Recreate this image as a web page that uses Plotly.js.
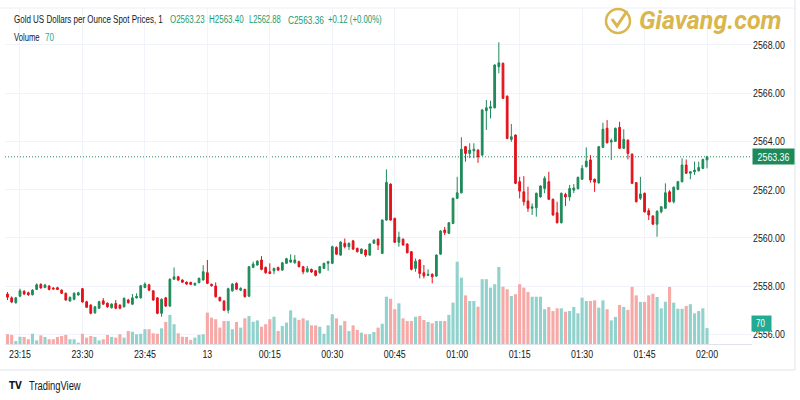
<!DOCTYPE html>
<html>
<head>
<meta charset="utf-8">
<script src="https://cdn.plot.ly/plotly-3.0.1.min.js"></script>
<style>
html,body{margin:0;padding:0;background:#fff;}
#chart{width:800px;height:400px;}
</style>
</head>
<body>
<div id="chart"></div>
<script>
// ---- data: 1-minute candles starting 2024-09-12 23:12 ----
var startTime = '2024-09-12 23:12';
var openP = [
2557.68,2557.52,2557.32,2557.59,2557.79,2557.73,2557.65,2557.87,2558.08,2557.95,
2558.01,2557.93,2557.94,2557.84,2557.71,2557.39,2557.46,2557.64,2557.90,2557.36,
2557.22,2556.90,2557.09,2557.40,2557.30,2557.11,2557.29,2557.22,2557.15,2557.43,
2557.26,2557.52,2557.52,2557.95,2558.06,2557.81,2557.52,2556.88,2557.52,2557.18,
2558.29,2558.39,2558.26,2558.17,2558.16,2558.05,2558.15,2558.26,2558.56,2558.08,
2558.01,2557.54,2557.39,2557.01,2557.81,2558.12,2557.84,2557.87,2557.59,2558.78,
2558.88,2559.09,2558.78,2558.60,2558.64,2558.78,2558.67,2558.95,2559.00,2558.97,
2559.02,2558.81,2558.60,2558.70,2558.64,2558.56,2558.74,2558.95,2558.95,2559.61,
2559.29,2559.78,2559.64,2559.88,2559.57,2559.36,2559.50,2559.29,2559.78,2559.95,
2559.36,2560.74,2562.23,2560.81,2559.82,2559.95,2559.75,2559.43,2558.74,2559.09,
2558.56,2558.45,2558.50,2558.42,2559.33,2560.33,2560.19,2560.60,2561.64,2561.87,
2563.78,2563.50,2563.61,2563.64,2563.43,2565.27,2565.37,2565.39,2567.09,2567.23,
2565.87,2564.08,2564.26,2562.33,2561.91,2561.53,2561.23,2561.25,2561.70,2562.05,
2562.33,2561.60,2561.04,2560.63,2561.80,2561.70,2561.98,2562.04,2562.43,2562.95,
2563.23,2562.43,2562.28,2563.75,2564.54,2563.97,2564.00,2564.58,2563.71,2564.05,
2563.47,2562.29,2561.64,2561.85,2561.13,2560.91,2560.57,2561.08,2561.23,2561.91,
2561.50,2562.01,2562.33,2563.02,2562.68,2562.74,2562.78,2562.88,2563.23];
var highP = [
2557.76,2557.58,2557.56,2557.90,2557.84,2557.78,2557.88,2558.12,2558.12,2558.10,
2558.05,2557.96,2557.98,2557.87,2557.74,2557.58,2557.75,2557.77,2557.93,2557.40,
2557.26,2557.18,2557.40,2557.51,2557.33,2557.30,2557.43,2557.25,2557.54,2557.48,
2557.68,2557.71,2558.06,2558.16,2558.10,2557.84,2557.55,2557.50,2557.56,2558.33,
2558.78,2558.43,2558.29,2558.20,2558.19,2558.15,2558.36,2558.87,2559.09,2558.11,
2558.16,2557.57,2557.42,2557.94,2558.13,2558.16,2557.96,2557.90,2558.84,2559.02,
2559.08,2559.25,2558.82,2558.95,2558.77,2558.81,2559.01,2559.18,2559.32,2559.29,
2559.06,2558.84,2558.84,2558.73,2558.67,2558.84,2558.98,2559.05,2559.68,2559.65,
2559.86,2559.98,2559.81,2559.92,2559.60,2559.57,2559.53,2559.78,2559.94,2559.98,
2560.77,2562.84,2562.26,2560.84,2560.26,2559.98,2559.78,2559.46,2559.15,2559.12,
2558.88,2558.70,2558.53,2559.32,2560.32,2560.46,2560.66,2561.67,2562.53,2564.17,
2563.81,2563.92,2563.92,2563.67,2565.33,2565.71,2565.68,2567.19,2568.10,2567.26,
2565.90,2564.72,2564.29,2562.53,2562.56,2562.12,2561.43,2561.88,2562.18,2562.56,
2562.74,2561.63,2561.50,2561.88,2561.87,2562.19,2562.23,2562.54,2563.02,2563.75,
2563.43,2562.46,2563.81,2564.77,2564.88,2564.12,2564.57,2564.81,2564.50,2564.08,
2563.50,2562.32,2562.53,2561.88,2561.23,2560.94,2561.14,2561.32,2562.26,2561.98,
2562.13,2562.36,2563.30,2563.25,2562.77,2563.16,2563.16,2563.28,2563.40];
var lowP = [
2557.43,2557.30,2557.28,2557.55,2557.64,2557.60,2557.62,2557.84,2557.90,2557.92,
2557.83,2557.86,2557.84,2557.68,2557.40,2557.36,2557.42,2557.61,2557.32,2557.10,
2556.84,2556.86,2557.06,2557.23,2557.11,2557.08,2557.05,2557.05,2557.12,2557.28,
2557.22,2557.49,2557.49,2557.92,2557.80,2557.40,2556.84,2556.74,2557.14,2557.14,
2558.26,2558.22,2558.14,2558.06,2558.05,2558.02,2558.12,2558.23,2558.09,2557.99,
2557.53,2557.37,2556.98,2556.88,2557.78,2557.85,2557.80,2557.53,2557.55,2558.75,
2558.85,2558.66,2558.52,2558.50,2558.50,2558.63,2558.64,2558.92,2558.97,2558.94,
2558.78,2558.50,2558.57,2558.56,2558.41,2558.52,2558.71,2558.64,2558.92,2559.30,
2559.26,2559.57,2559.50,2559.50,2559.40,2559.33,2559.21,2559.26,2559.75,2559.50,
2559.33,2560.71,2560.71,2559.79,2559.64,2559.68,2559.36,2558.66,2558.60,2558.33,
2558.33,2558.42,2558.12,2558.39,2559.30,2560.12,2560.16,2560.57,2561.61,2561.84,
2563.16,2563.30,2563.30,2563.11,2563.40,2564.47,2564.95,2565.36,2566.82,2565.75,
2564.09,2563.98,2562.23,2561.64,2561.34,2561.08,2560.95,2560.88,2561.67,2561.85,
2561.57,2560.92,2560.60,2560.60,2561.32,2561.54,2561.85,2562.01,2562.40,2562.92,
2562.29,2561.91,2562.25,2563.72,2563.91,2563.23,2563.97,2563.68,2563.68,2563.25,
2562.23,2561.47,2561.57,2561.05,2560.74,2560.54,2560.05,2561.02,2561.20,2561.47,
2561.43,2561.98,2562.30,2562.65,2562.43,2562.61,2562.75,2562.85,2562.88];
var closeP = [
2557.55,2557.35,2557.52,2557.81,2557.68,2557.65,2557.84,2558.06,2557.93,2558.05,
2557.87,2557.89,2557.87,2557.71,2557.43,2557.54,2557.71,2557.73,2557.35,2557.13,
2556.88,2557.15,2557.36,2557.26,2557.15,2557.26,2557.09,2557.09,2557.50,2557.32,
2557.52,2557.58,2558.02,2558.09,2557.84,2557.43,2556.88,2557.46,2557.18,2558.29,
2558.39,2558.26,2558.17,2558.09,2558.08,2558.12,2558.33,2558.60,2558.12,2558.02,
2557.57,2557.40,2557.01,2557.90,2558.09,2557.88,2557.91,2557.57,2558.81,2558.92,
2559.04,2558.70,2558.56,2558.53,2558.74,2558.67,2558.97,2559.14,2559.09,2559.09,
2558.81,2558.60,2558.73,2558.59,2558.45,2558.81,2558.95,2559.02,2559.64,2559.33,
2559.83,2559.64,2559.78,2559.54,2559.43,2559.54,2559.29,2559.75,2559.91,2559.71,
2560.74,2562.30,2560.74,2559.82,2560.03,2559.71,2559.39,2558.70,2559.04,2558.53,
2558.43,2558.49,2558.39,2559.29,2560.29,2560.22,2560.63,2561.64,2561.87,2563.67,
2563.50,2563.64,2563.67,2563.36,2565.30,2565.39,2565.43,2567.16,2567.25,2565.78,
2564.12,2564.19,2562.26,2561.94,2561.50,2561.23,2561.29,2561.85,2562.15,2562.47,
2561.60,2560.95,2560.63,2561.85,2561.70,2562.05,2562.07,2562.51,2562.88,2563.18,
2562.40,2562.31,2563.78,2564.50,2563.94,2564.03,2564.54,2563.71,2564.08,2563.50,
2562.26,2561.50,2561.82,2561.08,2560.95,2560.57,2561.11,2561.29,2561.87,2561.50,
2562.10,2562.33,2563.02,2562.68,2562.74,2562.81,2562.92,2563.25,2563.36];
var volume = [
43,40,13,32,31,21,45,16,38,31,21,21,31,35,40,21,21,6,45,28,
35,31,16,21,40,31,28,43,28,57,54,43,45,65,65,47,45,69,97,128,
87,47,32,31,18,28,40,43,138,116,109,72,101,101,65,97,72,113,123,98,
104,76,87,109,120,57,79,94,148,116,106,113,104,82,82,76,45,82,131,113,
82,101,57,82,62,50,43,43,53,72,89,208,199,153,179,113,101,101,120,123,
106,97,91,101,101,101,128,182,362,292,214,189,189,164,285,285,248,263,339,252,
241,211,219,263,248,229,208,208,208,153,163,145,157,157,142,145,163,135,204,189,
189,192,160,192,153,104,119,172,163,150,251,214,185,185,214,221,207,157,186,251,
182,155,155,167,175,135,145,157,70];
var tickTimes = ['2024-09-12 23:15','2024-09-12 23:30','2024-09-12 23:45','2024-09-13 00:00',
  '2024-09-13 00:15','2024-09-13 00:30','2024-09-13 00:45','2024-09-13 01:00',
  '2024-09-13 01:15','2024-09-13 01:30','2024-09-13 01:45','2024-09-13 02:00'];
var tickLabels = ['23:15','23:30','23:45','13','00:15','00:30','00:45','01:00','01:15','01:30','01:45','02:00'];
var priceTicks = [2556,2558,2560,2562,2564,2566,2568];
var seriesTitle = 'Gold US Dollars per Ounce Spot Prices, 1';
var ohlcLabels = ['O2563.23','H2563.40','L2562.88','C2563.36','+0.12 (+0.00%)'];
var lastPrice = 2563.36;
var lastVolume = 70;

// ---- build time axis values (1-minute bars) ----
function pad(n){return (n<10?'0':'')+n;}
var t0 = new Date(startTime.replace(' ','T')+':00Z').getTime();
var times = openP.map(function(_,i){
  var d = new Date(t0 + i*60000);
  return d.getUTCFullYear()+'-'+pad(d.getUTCMonth()+1)+'-'+pad(d.getUTCDate())+' '+pad(d.getUTCHours())+':'+pad(d.getUTCMinutes());
});

var UP = '#1e8a5a', DOWN = '#e3121c';
var VUP = '#92d2cc', VDOWN = '#f7a9a7';
var HDRGREEN = '#239a6c';
var FONTNAME = 'Liberation Sans';
var FONT = "'Liberation Sans','DejaVu Sans',sans-serif";
var volColors = closeP.map(function(c,i){return c>=openP[i]?VUP:VDOWN;});

var traces = [
  {type:'bar', x:times, y:volume, marker:{color:volColors, line:{width:0}}, xaxis:'x', yaxis:'y', hoverinfo:'skip'},
  {type:'candlestick', x:times, open:openP, high:highP, low:lowP, close:closeP, xaxis:'x', yaxis:'y2',
   increasing:{line:{color:UP,width:1}, fillcolor:UP},
   decreasing:{line:{color:DOWN,width:1}, fillcolor:DOWN},
   whiskerwidth:0, hoverinfo:'skip'}
];

// plot area: x 5..752, y 8..344
function px(x){return (x-5)/747;}
function py(y){return (344-y)/336;}

// narrow text: pick a font size whose natural width fits the slot, then stretch vertically back
var ctx = document.createElement('canvas').getContext('2d');
var vScale = {};
function label(s, left, w, y, color, base){
  ctx.font = base + "px '" + FONTNAME + "'";
  var m = ctx.measureText(s).width;
  var size = Math.min(base, base * w / m);
  size = Math.floor(size*10)/10;
  vScale[s] = base / size;
  return {xref:'paper', yref:'paper', x:px(left), y:py(y), xanchor:'left', yanchor:'middle',
    align:'left', showarrow:false, borderpad:0,
    font:{family:FONT, size:size, color:color}, text:s};
}
var headerPos = [[169,35],[208,35],[248,32],[287,36],[327,54]];
var annotations = [label(seriesTitle, 13, 150, 20, '#131722', 11)];
ohlcLabels.forEach(function(s,k){ annotations.push(label(s, headerPos[k][0], headerPos[k][1], 20, HDRGREEN, 11)); });
annotations.push(
  label('Volume', 13, 26, 37, '#131722', 11),
  label(String(lastVolume), 44, 9, 37, '#22ab94', 11),
  label('TradingView', 28, 52, 385, '#131722', 12),
  {xref:'paper', yref:'paper', x:px(8), y:py(385), xanchor:'left', yanchor:'middle', align:'left', showarrow:false, borderpad:0,
   font:{family:'DejaVu Sans, sans-serif', size:11, color:'#131722', weight:'bold'}, text:'TV'},
  {xref:'paper', yref:'paper', x:px(637), y:py(21), xanchor:'left', yanchor:'middle', showarrow:false,
   font:{family:'Roboto, sans-serif', size:25, color:'#d9b64e', weight:'bold', style:'italic'}, text:'Giavang.com'},
  {xref:'paper', yref:'y2', x:1, y:lastPrice, xanchor:'left', yanchor:'middle', showarrow:false,
   width:37, height:11, bgcolor:UP, borderpad:2, font:{family:FONT, size:11, color:'#ffffff'}, text:lastPrice.toFixed(2)},
  {xref:'paper', yref:'y', x:0.998, y:lastVolume, xanchor:'left', yanchor:'middle', yshift:5, showarrow:false,
   width:15, height:11, bgcolor:'#22ab94', borderpad:2, font:{family:FONT, size:10, color:'#ffffff'}, text:String(lastVolume)+' '}
);

var layout = {
  width:800, height:400,
  margin:{l:5, r:48, t:8, b:56, pad:0},
  paper_bgcolor:'#ffffff', plot_bgcolor:'#ffffff',
  showlegend:false,
  bargap:0.25,
  boxgap:0.4,
  font:{family:FONT, size:11, color:'#131722'},
  xaxis:{type:'date', range:['2024-09-12 23:11:24','2024-09-13 02:10:48'],
    tickvals:tickTimes, ticktext:tickLabels, showgrid:true, gridcolor:'#f0f3fa', gridwidth:1,
    zeroline:false, showline:true, linecolor:'#e0e3eb', linewidth:1, ticks:'', ticklen:0,
    tickfont:{family:FONT, size:11, color:'#131722'}, rangeslider:{visible:false}, fixedrange:true},
  yaxis:{range:[0,1478], visible:false, showgrid:false, zeroline:false, fixedrange:true},
  yaxis2:{overlaying:'y', side:'right', range:[2555.61,2569.52], tickvals:priceTicks,
    tickformat:'.2f', showgrid:true, gridcolor:'#f0f3fa', gridwidth:1, zeroline:false,
    showline:false, ticks:'', ticklen:0, tickfont:{family:FONT, size:11, color:'#131722'}, fixedrange:true},
  shapes:[
    {type:'line', xref:'paper', yref:'y2', x0:0, x1:1, y0:lastPrice, y1:lastPrice,
     line:{color:UP, width:1, dash:'1px,2px'}, layer:'below'},
    {type:'line', xref:'paper', yref:'paper', x0:px(0), x1:px(795), y0:py(370), y1:py(370), line:{color:'#e0e3eb', width:1}},
    {type:'line', xref:'paper', yref:'paper', x0:px(795), x1:px(795), y0:py(0), y1:py(370), line:{color:'#e0e3eb', width:1}},
    {type:'line', xref:'paper', yref:'paper', x0:px(0), x1:px(795), y0:py(8), y1:py(8), line:{color:'#eef0f5', width:1}},
    {type:'circle', xref:'paper', yref:'paper', xsizemode:'pixel', ysizemode:'pixel',
     xanchor:px(618), yanchor:py(21), x0:-12, x1:12, y0:-12, y1:12, line:{color:'#d9b64e', width:2.5}},
    {type:'path', xref:'paper', yref:'paper', xsizemode:'pixel', ysizemode:'pixel',
     xanchor:px(618), yanchor:py(21), path:'M -6 2 L -1 -5 L 9 10', line:{color:'#d9b64e', width:3}}
  ],
  annotations:annotations
};

Plotly.newPlot('chart', traces, layout, {staticPlot:true, displayModeBar:false}).then(function(gd){
  var texts = gd.querySelectorAll('text');
  Array.prototype.forEach.call(texts, function(t){
    var s = t.textContent || '';
    if (s.indexOf('Giavang') >= 0) return;
    if (vScale.hasOwnProperty(s)) {
      // restore the reference glyph height around the text's vertical centre
      var k = vScale[s];
      if (k > 1.001) {
        var b = t.getBBox();
        var cy = b.y + b.height/2;
        var tr = t.getAttribute('transform') || '';
        t.setAttribute('transform', tr + ' translate(0,' + cy + ') scale(1,' + k.toFixed(3) + ') translate(0,' + (-cy) + ')');
      }
      return;
    }
    // axis tick labels and price boxes: condensed like the reference
    var L = t.getComputedTextLength();
    if (!(L > 0)) return;
    var target = (s === '70 ') ? Math.min(L, 11) : L*0.8;
    t.setAttribute('textLength', target.toFixed(2));
    t.setAttribute('lengthAdjust', 'spacingAndGlyphs');
  });
});
</script>
</body>
</html>
